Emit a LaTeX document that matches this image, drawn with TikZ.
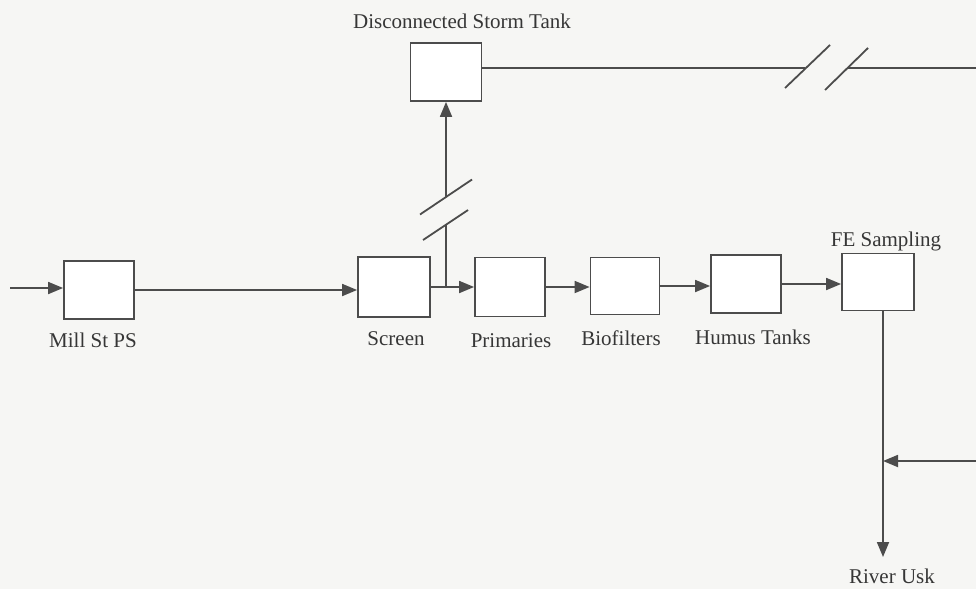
\documentclass[tikz,border=0pt]{standalone}
\usepackage{fontspec}
\setmainfont{Liberation Serif}
\usetikzlibrary{arrows.meta,calc}
\definecolor{ink}{HTML}{4C4C4C}
\definecolor{txt}{HTML}{363636}
\definecolor{paper}{HTML}{F6F6F4}
\begin{document}
\begin{tikzpicture}[x=1pt,y=-1pt,
  unit/.style={draw=ink,line width=1.8pt,fill=white,inner sep=0pt},
  lbl/.style={text=txt,font=\fontsize{21}{24}\selectfont,inner sep=0pt,anchor=base},
  flow/.style={draw=ink,line width=1.8pt},
  arr/.style={flow,-{Triangle[length=15pt,width=12pt]}},
  brk/.style={draw=ink,line width=1.8pt}]
\useasboundingbox (0,0) rectangle (976,589);
\fill[paper] (0,0) rectangle (976,589);

% units
\node[unit,minimum width=70pt,minimum height=58pt] (mill)   at (99,290)  {};
\node[unit,minimum width=72pt,minimum height=60pt] (screen) at (394,287) {};
\node[unit,minimum width=70pt,minimum height=59pt] (prim)   at (510,287) {};
\node[unit,minimum width=69pt,minimum height=57pt] (bio)    at (625,286) {};
\node[unit,minimum width=70pt,minimum height=58pt] (humus)  at (746,284) {};
\node[unit,minimum width=72pt,minimum height=57pt] (fe)     at (878,282) {};
\node[unit,minimum width=71pt,minimum height=58pt] (storm)  at (446,72)  {};

% labels
\node[lbl] (lstorm)  at (462,28)  {Disconnected Storm Tank};
\node[lbl] (lmill)   at (93,347)  {Mill St PS};
\node[lbl] (lscreen) at (396,345) {Screen};
\node[lbl] (lprim)   at (511,347) {Primaries};
\node[lbl] (lbio)    at (621,345) {Biofilters};
\node[lbl] (lhumus)  at (753,344) {Humus Tanks};
\node[lbl] (lfe)     at (886,246) {FE Sampling};
\node[lbl] (lriver)  at (892,583) {River Usk};

% helper coordinates
\coordinate (in)   at (10,288);
\coordinate (tee)  at (446,287);
\coordinate (vb1)  at (446,225);
\coordinate (vb2)  at (446,197);
\coordinate (hb1)  at (805,68);
\coordinate (hb2)  at (848,68);
\coordinate (hend) at (976,68);
\coordinate (j)    at (883,461);
\coordinate (rin)  at (976,461);
\coordinate (riv)  at (883,557);

% main flow
\draw[arr] (in) -- (mill.west |- in);
\draw[arr] (mill.east) -- (mill.east -| screen.west);
\draw[arr] (screen.east) -- (screen.east -| prim.west);
\draw[arr] (prim.east) -- (prim.east -| bio.west);
\draw[arr] (bio.east) -- (bio.east -| humus.west);
\draw[arr] (humus.east) -- (humus.east -| fe.west);

% branch to storm tank with break
\draw[flow] (tee) -- (vb1);
\draw[arr] (vb2) -- (storm.south -| vb2);
\draw[brk] ($(vb2)+(-26,17.5)$) -- ($(vb2)+(26,-17.5)$);
\draw[brk] ($(vb1)+(-23,15)$) -- ($(vb1)+(22,-15)$);

% storm tank outlet with break
\draw[flow] (storm.east |- hb1) -- (hb1);
\draw[flow] (hb2) -- (hend);
\draw[brk] (785,88) -- (830,45);
\draw[brk] (825,90) -- (868,48);

% final effluent to river
\draw[arr] (fe.south -| j) -- (riv);
\draw[arr] (rin) -- (j);
\end{tikzpicture}
\end{document}
